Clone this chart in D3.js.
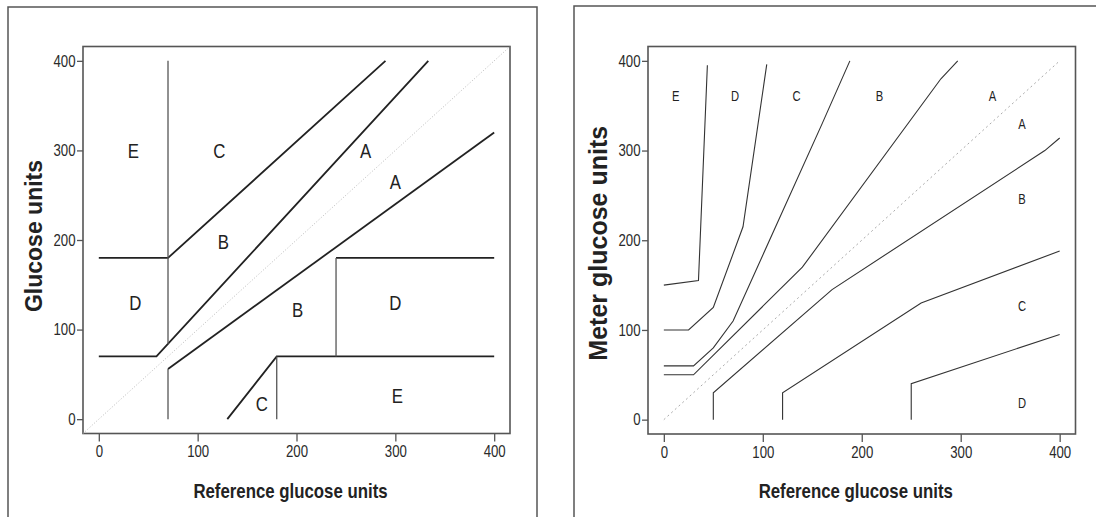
<!DOCTYPE html>
<html>
<head>
<meta charset="utf-8">
<script src="https://cdn.jsdelivr.net/npm/d3@7"></script>
<style>
  html, body { margin: 0; padding: 0; background: #fff; }
  svg { display: block; }
  text { font-family: "Liberation Sans", Arial, Helvetica, sans-serif; }
</style>
</head>
<body>
<svg id="chart" width="1096" height="517"></svg>
<script>
// ---------- data ----------
const tickValues = [0, 100, 200, 300, 400];
const xTitle = "Reference glucose units";
const leftYTitle = "Glucose units";
const rightYTitle = "Meter glucose units";

// Clarke error grid boundaries (left panel)
const clarkeUpperC   = [[0, 180], [70, 180], [290, 400]];
const clarkeUpperA   = [[0, 70], [58.33, 70], [333.33, 400]];
const clarkeLowerA   = [[70, 56], [400, 320]];
const clarkeLowerC   = [[130, 0], [180, 70], [400, 70]];
const clarkeUpperD   = [[240, 180], [400, 180]];
const clarkeVert70Up = [[70, 84], [70, 400]];
const clarkeVert70Lo = [[70, 0], [70, 56]];
const clarkeVert180  = [[180, 0], [180, 70]];
const clarkeVert240  = [[240, 70], [240, 180]];
const clarkeLabels = ["E", "C", "B", "A", "A", "D", "B", "D", "C", "E"];
const clarkeLabelX = [35, 122, 126, 270, 300, 37, 201, 300, 165, 302];
const clarkeLabelY = [300, 300, 198, 300, 265, 130, 123, 130, 17, 27];

// Parkes error grid boundaries (right panel)
const parkesUpperE = [[0, 150], [35, 155], [44, 395]];
const parkesUpperD = [[0, 100], [25, 100], [50, 125], [80, 215], [104, 396]];
const parkesUpperC = [[0, 60], [30, 60], [50, 80], [70, 110], [160, 330], [188, 400]];
const parkesUpperB = [[0, 50], [30, 50], [140, 170], [280, 380], [297, 400]];
const parkesLowerB = [[50, 0], [50, 30], [170, 145], [385, 300], [400, 314]];
const parkesLowerC = [[120, 0], [120, 30], [260, 130], [400, 188]];
const parkesLowerD = [[250, 0], [250, 40], [400, 95]];
const parkesLabels = ["E", "D", "C", "B", "A", "A", "B", "C", "D"];
const parkesLabelX = [12, 72, 134, 218, 332, 362, 362, 362, 362];
const parkesLabelY = [361, 361, 361, 361, 361, 330, 246, 127, 19];

const domain = [-16, 416];

// ---------- drawing ----------
const svg = d3.select("#chart");

function outerFrame(pts) {
  svg.append("path")
    .attr("d", d3.line()(pts))
    .attr("fill", "none")
    .attr("stroke", "#555")
    .attr("stroke-width", 1.5);
}
outerFrame([[8, 517], [8, 7], [537, 7], [537, 517]]);
outerFrame([[574, 517], [574, 6], [1096, 6]]);

function panel(opts) {
  const x = d3.scaleLinear().domain(domain).range([opts.left, opts.right]);
  const y = d3.scaleLinear().domain(domain).range([opts.bottom, opts.top]);
  const g = svg.append("g");

  const xAxis = d3.axisBottom(x).tickValues(tickValues).tickSize(8).tickSizeOuter(0).tickPadding(4);
  const yAxis = d3.axisLeft(y).tickValues(tickValues).tickSize(6).tickSizeOuter(0).tickPadding(1.5);
  const gx = g.append("g").attr("transform", `translate(0,${opts.bottom})`).call(xAxis);
  const gy = g.append("g").attr("transform", `translate(${opts.left},0)`).call(yAxis);
  [gx, gy].forEach(a => {
    a.select(".domain").remove();
    a.selectAll(".tick line").attr("stroke", "#555").attr("stroke-width", 1.3);
    a.selectAll(".tick text").attr("fill", "#2a2a2a").style("font-size", "16.5px").classed("condense", true);
  });

  g.append("rect")
    .attr("x", opts.left).attr("y", opts.top)
    .attr("width", opts.right - opts.left).attr("height", opts.bottom - opts.top)
    .attr("fill", "none").attr("stroke", "#555").attr("stroke-width", 1.6);

  g.append("text")
    .attr("class", "condense")
    .attr("x", x(200) - 6).attr("y", 498)
    .attr("text-anchor", "middle")
    .style("font-size", "21px").style("font-weight", "bold").attr("fill", "#222")
    .text(xTitle);
  g.append("text")
    .attr("transform", `translate(${opts.yTitleX},${y(200) + opts.yTitleShift}) rotate(-90)`)
    .attr("text-anchor", "middle")
    .style("font-size", opts.yTitleSize).style("font-weight", "bold").attr("fill", "#222")
    .text(opts.yTitle);

  const line = d3.line().x(d => x(d[0])).y(d => y(d[1]));
  return { x, y, g, line };
}

// Left: Clarke
const L = panel({ left: 83, right: 510, top: 46.5, bottom: 433.5, yTitleX: 42, yTitleShift: -4, yTitleSize: "23px", yTitle: leftYTitle });
L.g.append("path")
  .attr("d", L.line([[domain[0], domain[0]], [domain[1], domain[1]]]))
  .attr("fill", "none").attr("stroke", "#bbb").attr("stroke-width", 1).attr("stroke-dasharray", "1,2");
[clarkeUpperC, clarkeUpperA, clarkeLowerA, clarkeLowerC, clarkeUpperD].forEach(d => {
  L.g.append("path").attr("d", L.line(d)).attr("fill", "none")
    .attr("stroke", "#222").attr("stroke-width", 1.8);
});
[clarkeVert70Up, clarkeVert70Lo, clarkeVert180, clarkeVert240].forEach(d => {
  L.g.append("path").attr("d", L.line(d)).attr("fill", "none")
    .attr("stroke", "#555").attr("stroke-width", 1.3);
});
L.g.selectAll("text.zone").data(clarkeLabels).join("text")
  .attr("class", "zone condense")
  .attr("x", (d, i) => L.x(clarkeLabelX[i]))
  .attr("y", (d, i) => L.y(clarkeLabelY[i]))
  .attr("dy", "0.36em")
  .attr("text-anchor", "middle")
  .style("font-size", "21px").attr("fill", "#222")
  .text(d => d);

// Right: Parkes
const R = panel({ left: 648, right: 1075.5, top: 46.5, bottom: 434, yTitleX: 607, yTitleShift: 3, yTitleSize: "25px", yTitle: rightYTitle });
R.g.append("path")
  .attr("d", R.line([[0, 0], [400, 400]]))
  .attr("fill", "none").attr("stroke", "#aaa").attr("stroke-width", 1).attr("stroke-dasharray", "2,3");
[parkesUpperE, parkesUpperD, parkesUpperC, parkesUpperB, parkesLowerB, parkesLowerC, parkesLowerD].forEach(d => {
  R.g.append("path").attr("d", R.line(d)).attr("fill", "none")
    .attr("stroke", "#333").attr("stroke-width", 1.1);
});
R.g.selectAll("text.zone").data(parkesLabels).join("text")
  .attr("class", "zone condense")
  .attr("x", (d, i) => R.x(parkesLabelX[i]))
  .attr("y", (d, i) => R.y(parkesLabelY[i]))
  .attr("dy", "0.36em")
  .attr("text-anchor", "middle")
  .style("font-size", "14px").attr("fill", "#222")
  .text(d => d);

// horizontally condensed text (reference figure is squeezed horizontally)
svg.selectAll("text.condense").each(function () {
  const len = this.getComputedTextLength();
  d3.select(this).attr("textLength", len * 0.8).attr("lengthAdjust", "spacingAndGlyphs");
});
</script>
</body>
</html>
